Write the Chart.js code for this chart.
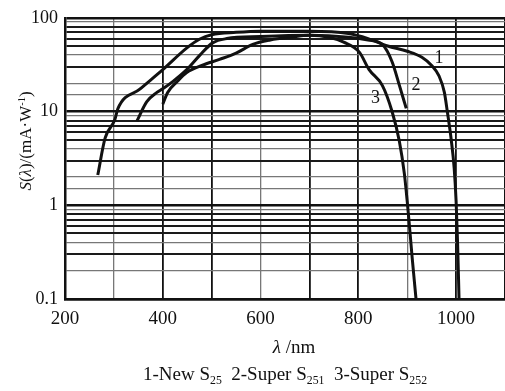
<!DOCTYPE html>
<html>
<head>
<meta charset="utf-8">
<script src="https://cdn.jsdelivr.net/npm/chart.js@4.4.1/dist/chart.umd.min.js"></script>
<style>
  html, body { margin: 0; padding: 0; background: #fff; }
  #wrap { width: 505px; height: 391px; }
</style>
</head>
<body>
<div id="wrap"><canvas id="myChart" width="505" height="391"></canvas></div>
<script>
// wavelength (nm) and sensitivity S (mA/W)
const wl1 = [267, 282, 302, 308, 353, 400, 450, 475, 500, 550, 600, 700, 780, 820, 860, 900, 930, 950, 965, 976, 982, 990, 996, 1000, 1003, 1006];
const s1  = [2.1, 5.2, 8.2, 10.7, 17.3, 28, 48, 59, 66, 70, 72, 72, 68, 60, 50, 44, 38, 31, 24, 16, 10, 5, 2.5, 1.1, 0.4, 0.1];

const wl2 = [347, 367, 388, 400, 421, 449, 476, 502, 531, 600, 700, 780, 820, 849, 869, 884, 898];
const s2  = [7.9, 12.7, 16, 17.5, 21, 28, 40, 54, 60, 63, 65, 62, 58, 52, 34, 19, 10.8];

const wl3 = [400, 410, 430, 449, 480, 516, 550, 584, 620, 660, 700, 740, 770, 802, 822, 849, 869, 884, 894, 900, 904, 910, 918];
const s3  = [12, 16, 21, 26, 31, 36, 42, 52, 58, 62, 65, 62, 55, 43, 28, 19, 10, 4.8, 2.2, 1.1, 0.65, 0.28, 0.1];

const curveNames = ['1', '2', '3'];
const labelWl = [965, 918, 835];
const labelS  = [37, 19.2, 13.7];

const xMin = 200, xMax = 1100, xStep = 100;
const yMin = 0.1, yMax = 100;

const ink = '#111';
const serif = '"Liberation Serif", "DejaVu Serif", serif';

function toPoints(xs, ys) {
    return xs.map((x, i) => ({ x: x, y: ys[i] }));
}

function isDecade(v) {
    const l = Math.log10(v);
    return Math.abs(l - Math.round(l)) < 1e-6;
}

function mantissa(v) {
    return Math.round(v / Math.pow(10, Math.floor(Math.log10(v) + 1e-9)));
}

// text helpers: draw runs of text with italic / sub / sup parts
function runWidth(ctx, runs, size) {
    let w = 0;
    runs.forEach(r => {
        const s = r.small ? size * 0.62 : size;
        ctx.font = (r.italic ? 'italic ' : '') + s + 'px ' + serif;
        w += ctx.measureText(r.t).width;
    });
    return w;
}

function drawRuns(ctx, runs, size, x, y) {
    let cx = x;
    runs.forEach(r => {
        const s = r.small ? size * 0.62 : size;
        ctx.font = (r.italic ? 'italic ' : '') + s + 'px ' + serif;
        let dy = 0;
        if (r.sub) dy = size * 0.22;
        if (r.sup) dy = -size * 0.38;
        ctx.fillText(r.t, cx, y + dy);
        cx += ctx.measureText(r.t).width;
    });
}

const textPlugin = {
    id: 'textPlugin',
    afterDraw(chart) {
        const ctx = chart.ctx;
        const xs = chart.scales.x, ys = chart.scales.y;
        ctx.save();
        ctx.fillStyle = ink;

        // curve numbers
        ctx.font = '18px ' + serif;
        ctx.textAlign = 'center';
        ctx.textBaseline = 'middle';
        curveNames.forEach((n, i) => {
            ctx.fillText(n, xs.getPixelForValue(labelWl[i]), ys.getPixelForValue(labelS[i]));
        });
        ctx.textAlign = 'left';
        ctx.textBaseline = 'alphabetic';

        // y axis title
        const yTitle = [
            { t: 'S', italic: true }, { t: '(' }, { t: 'λ', italic: true },
            { t: ')/(mA·W' }, { t: '-1', small: true, sup: true }, { t: ')' }
        ];
        const ySize = 17;
        const yw = runWidth(ctx, yTitle, ySize);
        ctx.save();
        ctx.translate(31, 141);
        ctx.rotate(-Math.PI / 2);
        drawRuns(ctx, yTitle, ySize, -yw / 2, 0);
        ctx.restore();

        // x axis title
        const xTitle = [{ t: 'λ', italic: true }, { t: ' /nm' }];
        const xw = runWidth(ctx, xTitle, 19);
        drawRuns(ctx, xTitle, 19, 294 - xw / 2, 353);

        // caption
        const cap = [
            { t: '1-New S' }, { t: '25', small: true, sub: true },
            { t: '  2-Super S' }, { t: '251', small: true, sub: true },
            { t: '  3-Super S' }, { t: '252', small: true, sub: true }
        ];
        const cw = runWidth(ctx, cap, 19);
        drawRuns(ctx, cap, 19, 285 - cw / 2, 380);
        ctx.restore();
    }
};

const bgPlugin = {
    id: 'bgPlugin',
    beforeDraw(chart) {
        const ctx = chart.ctx;
        ctx.save();
        ctx.fillStyle = '#fff';
        ctx.fillRect(0, 0, chart.width, chart.height);
        ctx.restore();
    }
};

function yGridColor(c) {
    const v = c.tick.value;
    if (isDecade(v)) return ink;
    const m = mantissa(v);
    if (m === 2 || m === 4 || m === 9) return '#777';
    return '#1a1a1a';
}
function yGridWidth(c) {
    const v = c.tick.value;
    if (isDecade(v)) return 2.5;
    const m = mantissa(v);
    if (m === 2 || m === 4 || m === 9) return 1.3;
    return 2;
}
function xGridColor(c) {
    const v = c.tick.value;
    return (v === 300 || v === 600 || v === 900) ? '#777' : ink;
}
function xGridWidth(c) {
    const v = c.tick.value;
    return (v === 300 || v === 600 || v === 900) ? 1.3 : 1.8;
}

const lineStyle = {
    borderColor: ink,
    borderWidth: 3,
    pointRadius: 0,
    fill: false,
    cubicInterpolationMode: 'monotone'
};

new Chart(document.getElementById('myChart'), {
    type: 'line',
    data: {
        datasets: [
            Object.assign({ label: '1-New S25', data: toPoints(wl1, s1) }, lineStyle),
            Object.assign({ label: '2-Super S251', data: toPoints(wl2, s2) }, lineStyle),
            Object.assign({ label: '3-Super S252', data: toPoints(wl3, s3) }, lineStyle)
        ]
    },
    options: {
        responsive: false,
        animation: false,
        events: [],
        layout: { padding: { top: 15, right: 0, left: 0, bottom: 0 } },
        plugins: {
            legend: { display: false },
            tooltip: { enabled: false },
            title: { display: false }
        },
        scales: {
            x: {
                type: 'linear',
                min: xMin,
                max: xMax,
                afterFit: (scale) => { scale.height = 92; scale.paddingRight = 0; },
                ticks: {
                    stepSize: xStep,
                    autoSkip: false,
                    maxRotation: 0,
                    padding: 9,
                    color: ink,
                    font: { family: serif, size: 19 },
                    callback: (v) => (v % 200 === 0 && v <= 1000) ? String(v) : ''
                },
                grid: { color: xGridColor, lineWidth: xGridWidth, drawTicks: false },
                border: { color: ink, width: 2.5 }
            },
            y: {
                type: 'logarithmic',
                min: yMin,
                max: yMax,
                afterFit: (scale) => { scale.width = 65; },
                ticks: {
                    autoSkip: false,
                    padding: 7,
                    color: ink,
                    font: { family: serif, size: 18 },
                    callback: (v) => isDecade(v) ? String(Math.round(v * 10) / 10) : ''
                },
                grid: { color: yGridColor, lineWidth: yGridWidth, drawTicks: false },
                border: { color: ink, width: 2.5 }
            }
        }
    },
    plugins: [bgPlugin, textPlugin]
});
</script>
</body>
</html>
